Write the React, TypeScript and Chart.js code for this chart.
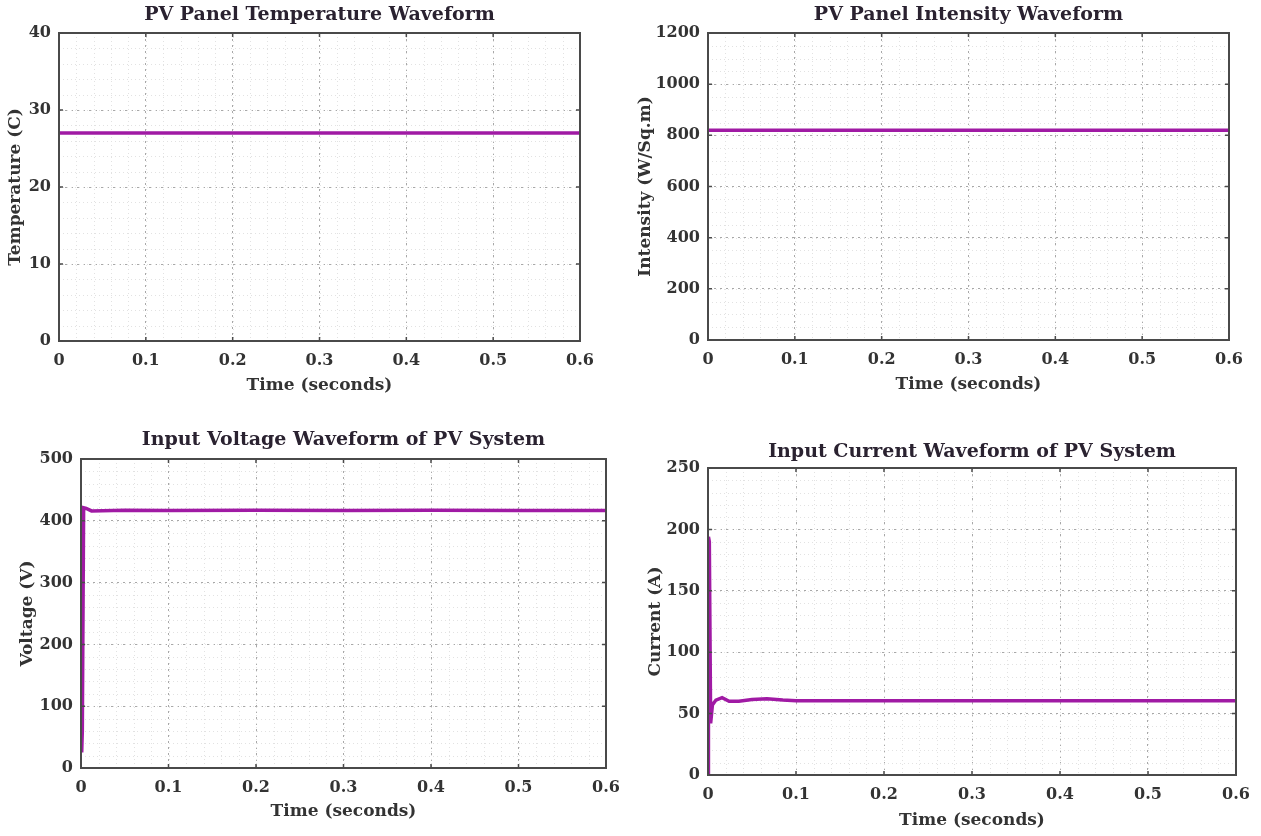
import React, { useEffect, useRef } from "react";
import { Chart, registerables } from "chart.js";

Chart.register(...registerables);

// ---- data ----
const tempTime = [0, 0.1, 0.2, 0.3, 0.4, 0.5, 0.6];
const tempValues = [27, 27, 27, 27, 27, 27, 27];

const intensityTime = [0, 0.1, 0.2, 0.3, 0.4, 0.5, 0.6];
const intensityValues = [820, 820, 820, 820, 820, 820, 820];

const voltageTime = [0.0008, 0.0015, 0.003, 0.006, 0.012, 0.05, 0.1, 0.2, 0.3, 0.4, 0.5, 0.6];
const voltageValues = [25, 60, 421, 420, 416, 417, 416.5, 417, 416.5, 417, 416.5, 416.5];

const currentTime = [0, 0.0005, 0.0015, 0.003, 0.005, 0.009, 0.016, 0.024, 0.035, 0.05, 0.067, 0.085, 0.1, 0.2, 0.3, 0.4, 0.5, 0.6];
const currentValues = [0, 194, 190, 42, 57, 61, 63, 60, 60, 61.5, 62, 61, 60.5, 60.5, 60.5, 60.5, 60.5, 60.5];

const timeMax = 0.6;
const timeStep = 0.1;

const LINE_COLOR = "#a01aa4";
const FONT = '"DejaVu Serif", serif';
const TEXT_COLOR = "#333333";

type PanelSpec = {
  title: string;
  yTitle: string;
  xTitle: string;
  xs: number[];
  ys: number[];
  yMax: number;
  yStep: number;
  yMinorStep: number;
  // canvas box
  left: number;
  top: number;
  width: number;
  height: number;
  // plot-area geometry within the canvas
  padTop: number;
  padRight: number;
  yAxisWidth: number;
  xAxisHeight: number;
  xTitlePad: number;
  yTitlePad: number;
  titleGap: number;
};

const panels: PanelSpec[] = [
  {
    title: "PV Panel Temperature Waveform",
    yTitle: "Temperature (C)",
    xTitle: "Time (seconds)",
    xs: tempTime,
    ys: tempValues,
    yMax: 40,
    yStep: 10,
    yMinorStep: 2,
    left: 0, top: 0, width: 620, height: 410,
    padTop: 33, padRight: 40, yAxisWidth: 59, xAxisHeight: 69,
    xTitlePad: 14, yTitlePad: 5, titleGap: 17.5,
  },
  {
    title: "PV Panel Intensity Waveform",
    yTitle: "Intensity (W/Sq.m)",
    xTitle: "Time (seconds)",
    xs: intensityTime,
    ys: intensityValues,
    yMax: 1200,
    yStep: 200,
    yMinorStep: 50,
    left: 620, top: 0, width: 641, height: 410,
    padTop: 33, padRight: 32, yAxisWidth: 88, xAxisHeight: 70,
    xTitlePad: 15, yTitlePad: 15, titleGap: 18,
  },
  {
    title: "Input Voltage Waveform of PV System",
    yTitle: "Voltage (V)",
    xTitle: "Time (seconds)",
    xs: voltageTime,
    ys: voltageValues,
    yMax: 500,
    yStep: 100,
    yMinorStep: 20,
    left: 0, top: 410, width: 630, height: 426,
    padTop: 49, padRight: 24, yAxisWidth: 81, xAxisHeight: 68,
    xTitlePad: 14, yTitlePad: 17, titleGap: 19,
  },
  {
    title: "Input Current Waveform of PV System",
    yTitle: "Current (A)",
    xTitle: "Time (seconds)",
    xs: currentTime,
    ys: currentValues,
    yMax: 250,
    yStep: 50,
    yMinorStep: 10,
    left: 630, top: 410, width: 631, height: 426,
    padTop: 58, padRight: 25, yAxisWidth: 78, xAxisHeight: 61,
    xTitlePad: 5, yTitlePad: 15, titleGap: 16,
  },
];

// Draws the minor grid, the boxed frame with inward tick marks, and the panel title.
const framePlugin = {
  id: "frame",
  beforeDatasetsDraw(chart: any, _args: any, opts: any) {
    const { ctx, chartArea: a, scales } = chart;
    const x = scales.x;
    const y = scales.y;
    ctx.save();
    ctx.strokeStyle = "#e2e2e2";
    ctx.lineWidth = 1;
    ctx.setLineDash([1, 3]);
    for (let v = 0; v <= x.max + 1e-9; v += opts.xMinorStep) {
      const px = Math.round(x.getPixelForValue(v)) + 0.5;
      ctx.beginPath();
      ctx.moveTo(px, a.top);
      ctx.lineTo(px, a.bottom);
      ctx.stroke();
    }
    for (let v = 0; v <= y.max + 1e-9; v += opts.yMinorStep) {
      const py = Math.round(y.getPixelForValue(v)) + 0.5;
      ctx.beginPath();
      ctx.moveTo(a.left, py);
      ctx.lineTo(a.right, py);
      ctx.stroke();
    }
    ctx.restore();
  },
  afterDraw(chart: any, _args: any, opts: any) {
    const { ctx, chartArea: a, scales } = chart;
    ctx.save();
    ctx.strokeStyle = "#4a4a4a";
    ctx.lineWidth = 2;
    ctx.strokeRect(a.left, a.top, a.right - a.left, a.bottom - a.top);

    ctx.lineWidth = 1.5;
    const tl = 4;
    scales.x.ticks.forEach((t: any) => {
      const px = scales.x.getPixelForValue(t.value);
      ctx.beginPath();
      ctx.moveTo(px, a.bottom);
      ctx.lineTo(px, a.bottom - tl);
      ctx.moveTo(px, a.top);
      ctx.lineTo(px, a.top + tl);
      ctx.stroke();
    });
    scales.y.ticks.forEach((t: any) => {
      const py = scales.y.getPixelForValue(t.value);
      ctx.beginPath();
      ctx.moveTo(a.left, py);
      ctx.lineTo(a.left + tl, py);
      ctx.moveTo(a.right, py);
      ctx.lineTo(a.right - tl, py);
      ctx.stroke();
    });

    ctx.font = `bold 19px ${FONT}`;
    ctx.textAlign = "center";
    ctx.textBaseline = "middle";
    ctx.fillStyle = "#2a2230";
    ctx.fillText(opts.text, (a.left + a.right) / 2, a.top - opts.gap);
    ctx.restore();
  },
};

function Panel({ spec }: { spec: PanelSpec }) {
  const ref = useRef<HTMLCanvasElement | null>(null);

  useEffect(() => {
    if (!ref.current) return;
    const points = spec.xs.map((x, i) => ({ x, y: spec.ys[i] }));
    const tickFont = { family: FONT, size: 16, weight: "bold" as const };
    const axisTitleFont = { family: FONT, size: 17, weight: "bold" as const };
    const chart = new Chart(ref.current, {
      type: "line",
      data: {
        datasets: [
          {
            data: points,
            borderColor: LINE_COLOR,
            borderWidth: 3.5,
            pointRadius: 0,
            tension: 0,
            fill: false,
          },
        ],
      },
      options: {
        animation: false,
        responsive: false,
        devicePixelRatio: 1,
        layout: { padding: { top: spec.padTop, right: spec.padRight, left: 0, bottom: 0 } },
        plugins: {
          legend: { display: false },
          tooltip: { enabled: false },
          frame: {
            text: spec.title,
            gap: spec.titleGap,
            xMinorStep: 0.02,
            yMinorStep: spec.yMinorStep,
          },
        } as any,
        scales: {
          x: {
            type: "linear",
            min: 0,
            max: timeMax,
            border: { display: false, dash: [2, 4] },
            afterFit: (s: any) => {
              s.height = spec.xAxisHeight;
            },
            ticks: {
              stepSize: timeStep,
              padding: 10,
              color: TEXT_COLOR,
              font: tickFont,
              maxRotation: 0,
              autoSkip: false,
              callback: (v: any) => String(Math.round(Number(v) * 10) / 10),
            },
            grid: {
              drawTicks: false,
              color: "#a8a8a8",
              lineWidth: 1,
            },
            title: {
              display: true,
              text: spec.xTitle,
              color: TEXT_COLOR,
              font: axisTitleFont,
              padding: { top: 0, bottom: spec.xTitlePad },
            },
          },
          y: {
            type: "linear",
            min: 0,
            max: spec.yMax,
            border: { display: false, dash: [2, 4] },
            afterFit: (s: any) => {
              s.width = spec.yAxisWidth;
            },
            ticks: {
              stepSize: spec.yStep,
              padding: 8,
              color: TEXT_COLOR,
              font: tickFont,
              callback: (v: any) => String(v),
            },
            grid: {
              drawTicks: false,
              color: "#a8a8a8",
              lineWidth: 1,
            },
            title: {
              display: true,
              text: spec.yTitle,
              color: TEXT_COLOR,
              font: axisTitleFont,
              padding: { top: spec.yTitlePad, bottom: 0 },
            },
          },
        },
      },
      plugins: [framePlugin as any],
    });
    return () => chart.destroy();
  }, [spec]);

  return (
    <canvas
      ref={ref}
      width={spec.width}
      height={spec.height}
      style={{
        position: "absolute",
        left: spec.left,
        top: spec.top,
        width: spec.width,
        height: spec.height,
      }}
    />
  );
}

export default function App() {
  return (
    <div
      style={{
        position: "absolute",
        left: 0,
        top: 0,
        width: 1261,
        height: 836,
        background: "#ffffff",
      }}
    >
      {panels.map((p) => (
        <Panel key={p.title} spec={p} />
      ))}
    </div>
  );
}
